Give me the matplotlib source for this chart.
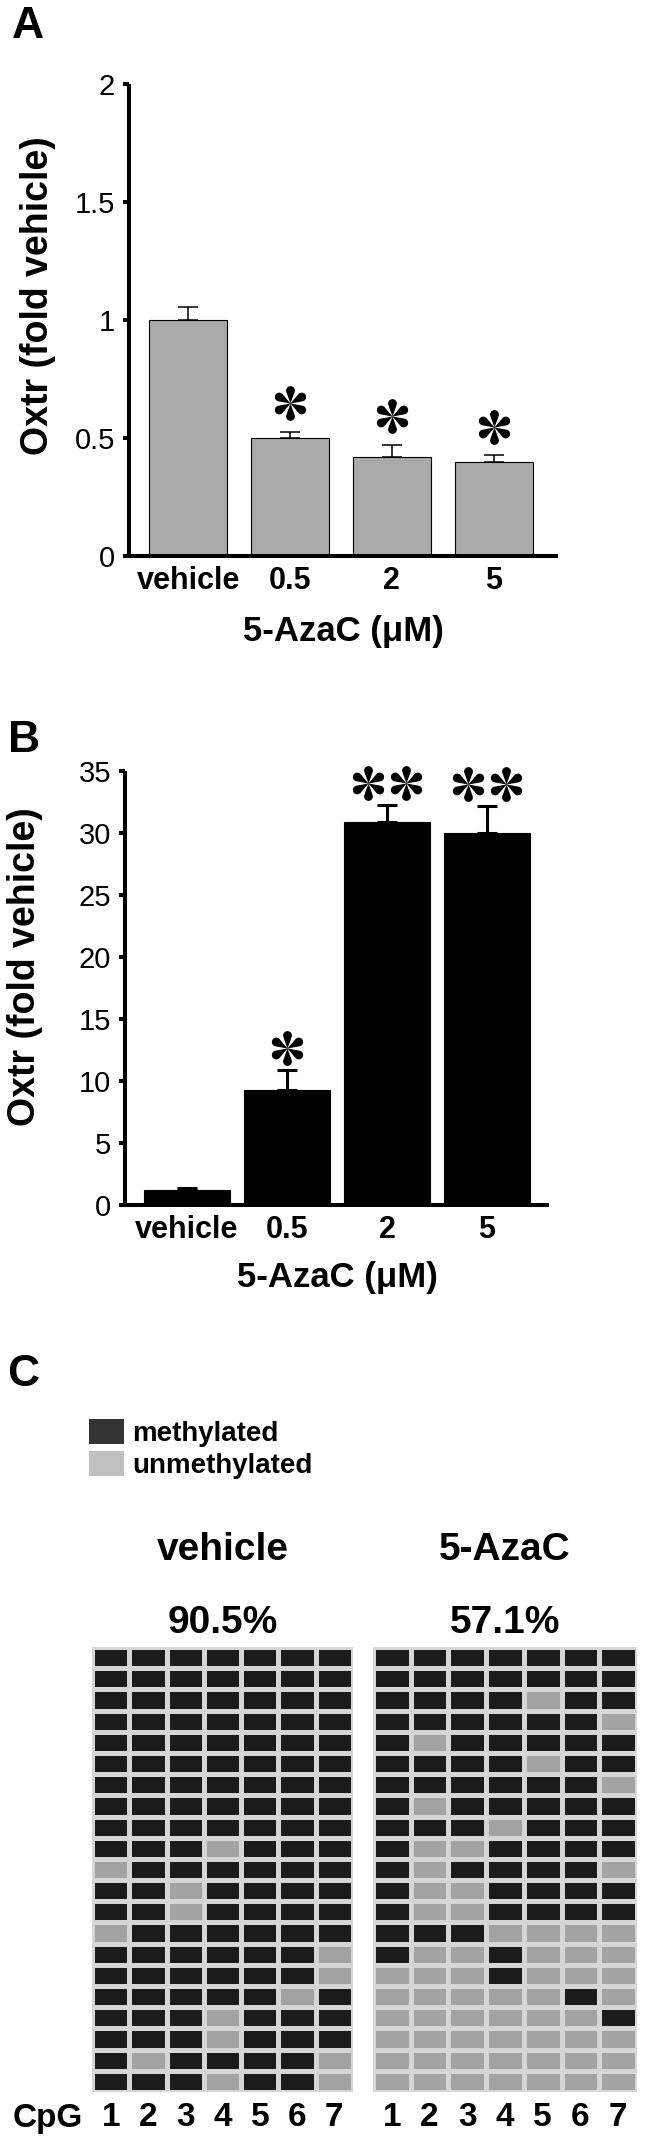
import numpy as np
import matplotlib.pyplot as plt
from matplotlib.colors import ListedColormap
from matplotlib.patches import Patch
from matplotlib.path import Path

W, H = 648, 2141
DPI = 100

plt.rcParams['font.family'] = ['Liberation Sans', 'DejaVu Sans']

# --- data
doses = ['vehicle', '0.5', '2', '5']

# panel A (grey bars)
oxtr_a = [1.0, 0.50, 0.42, 0.40]
err_a = [0.053, 0.027, 0.052, 0.026]
sig_a = [0, 1, 1, 1]          # number of asterisks

# panel B (black bars)
oxtr_b = [1.17, 9.3, 30.85, 30.0]
err_b = [0.17, 1.57, 1.42, 2.17]
sig_b = [0, 1, 2, 2]

# panel C, 1 = methylated, 0 = unmethylated (21 clones x 7 CpG)
cpg_labels = ['1', '2', '3', '4', '5', '6', '7']
meth_vehicle = [
    '1111111', '1111111', '1111111', '1111111', '1111111', '1111111',
    '1111111', '1111111', '1111111', '1110111', '0111111', '1101111',
    '1101111', '0111111', '1111110', '1111110', '1111101', '1110111',
    '1110111', '1011110', '1110110',
]
meth_azac = [
    '1111111', '1111111', '1111011', '1111110', '1011111', '1111011',
    '1111110', '1011111', '1110111', '1001111', '1011110', '1001111',
    '1001111', '1110000', '1001000', '0001000', '0000010', '0000001',
    '0000000', '0000000', '0000000',
]


def axes_px(l, t, r, b):
    return fig.add_axes([l / W, 1 - b / H, (r - l) / W, (b - t) / H])


def fig_text(x, y, s, **kw):
    return fig.text(x / W, 1 - y / H, s, **kw)


def teardrop_star():
    # six teardrop petals, like the symbol-font asterisk
    d, rc = 0.74, 0.25
    a = np.arcsin(rc / d)
    verts, codes = [], []
    for k in range(6):
        th = np.pi / 2 + k * np.pi / 3
        c = d * np.array([np.cos(th), np.sin(th)])
        phis = np.linspace(np.pi / 2 + a, -(np.pi / 2 + a), 24)
        pts = [(0, 0)] + [tuple(c + rc * np.array([np.cos(th + p), np.sin(th + p)])) for p in phis]
        verts += pts + [(0, 0)]
        codes += [Path.MOVETO] + [Path.LINETO] * len(phis) + [Path.CLOSEPOLY]
    return Path(verts, codes)


STAR = teardrop_star()

fig = plt.figure(figsize=(W / DPI, H / DPI), dpi=DPI)

SPINE = 2.9


def bar_panel(ax, vals, errs, sigs, color, width, ylim, yticks, ytl, star_off, star_gap,
              elw, xlim, xlab_y, ylab_x, ylab_y, top, bottom):
    x = np.arange(len(vals))
    ax.bar(x, vals, width=width, color=color, edgecolor='black', linewidth=0.8, zorder=2)
    ax.errorbar(x, vals, yerr=[np.zeros(len(errs)), errs], fmt='none', ecolor='black',
                elinewidth=elw, capsize=7, capthick=elw, zorder=3)
    for xi, v, e, n in zip(x, vals, errs, sigs):
        if n:
            sx = xi + (np.arange(n) - (n - 1) / 2) * star_gap
            ax.plot(sx, np.full(n, v + e + star_off), linestyle='none', marker=STAR,
                    ms=25, color='black', mew=0, clip_on=False)
    ax.set_xlim(*xlim)
    ax.set_ylim(*ylim)
    ax.set_yticks(yticks, ytl)
    ax.set_xticks(x, doses)
    for s in ['top', 'right']:
        ax.spines[s].set_visible(False)
    for s in ['left', 'bottom']:
        ax.spines[s].set_linewidth(SPINE)
        ax.spines[s].set_capstyle('butt')
    ax.tick_params(axis='y', direction='out', length=4, width=SPINE, labelsize=21, pad=6)
    ax.tick_params(axis='x', length=0, labelsize=22, pad=7)
    for t in ax.get_xticklabels():
        t.set_fontweight('bold')
    ax.set_xlabel('5-AzaC (μM)', fontsize=25, fontweight='bold')
    ax.xaxis.label.set_va('center')
    x0, x1 = ax.get_position().x0 * W, ax.get_position().x1 * W
    ax.xaxis.set_label_coords(0.5, -(xlab_y - bottom) / (bottom - top))
    ax.set_ylabel('Oxtr (fold vehicle)', fontsize=27, fontweight='bold')
    ax.yaxis.label.set_va('center')
    ax.yaxis.set_label_coords((ylab_x - x0) / (x1 - x0), (bottom - ylab_y) / (bottom - top))
    ax.patch.set_visible(False)


# ---- panel A
axA = axes_px(129, 84, 558, 556)
bar_panel(axA, oxtr_a, err_a, sig_a, '#aaaaaa', 0.77, (0, 2), [0, 0.5, 1, 1.5, 2],
          ['0', '0.5', '1', '1.5', '2'], 0.12, 0.38, 1.1, (-0.58, 3.63), 632, 38, 296, 84, 556)
fig_text(12, 26, 'A', fontsize=32, fontweight='bold', va='center')

# ---- panel B
axB = axes_px(125, 771, 549, 1205)
bar_panel(axB, oxtr_b, err_b, sig_b, 'black', 0.86, (0, 35), range(0, 36, 5),
          [str(v) for v in range(0, 36, 5)], 1.8, 0.39, 2.2, (-0.62, 3.62), 1277, 25, 967,
          771, 1205)
fig_text(8, 740, 'B', fontsize=32, fontweight='bold', va='center')

# ---- panel C
fig_text(7, 1375, 'C', fontsize=32, fontweight='bold', va='center')

cmap = ListedColormap(['#a3a3a3', '#1b1b1b'])
grids = [('vehicle', meth_vehicle, (92, 1647, 353, 2092)),
         ('5-AzaC', meth_azac, (373, 1647, 637, 2092))]
for name, rows, box in grids:
    m = np.array([[int(c) for c in r] for r in rows])
    ax = axes_px(*box)
    ax.pcolormesh(m, cmap=cmap, vmin=0, vmax=1, edgecolors='#d6d6d6', linewidth=2.2)
    ax.set_xlim(0, m.shape[1])
    ax.set_ylim(m.shape[0], 0)
    ax.set_xticks(np.arange(m.shape[1]) + 0.5, cpg_labels)
    ax.set_yticks([])
    ax.tick_params(axis='x', length=0, labelsize=24, pad=7)
    for t in ax.get_xticklabels():
        t.set_fontweight('bold')
    for s in ax.spines.values():
        s.set_visible(False)
    cx = (box[0] + box[2]) / 2
    fig_text(cx, 1560, name, fontsize=28, fontweight='bold', ha='center', va='baseline')
    fig_text(cx, 1633, f'{100 * m.mean():.1f}%', fontsize=28, fontweight='bold',
             ha='center', va='baseline')

fig_text(83, 2127, 'CpG', fontsize=24, fontweight='bold', ha='right', va='baseline')

handles = [Patch(facecolor='#333333'), Patch(facecolor='#c0c0c0')]
fig.legend(handles, ['methylated', 'unmethylated'], loc='upper left',
           bbox_to_anchor=(89 / W, 1 - 1419 / H), frameon=False,
           prop={'size': 20, 'weight': 'bold'}, handlelength=1.26, handleheight=1.0,
           handletextpad=0.3, labelspacing=0.15, borderpad=0, borderaxespad=0)

fig.savefig('out.png', dpi=DPI)
